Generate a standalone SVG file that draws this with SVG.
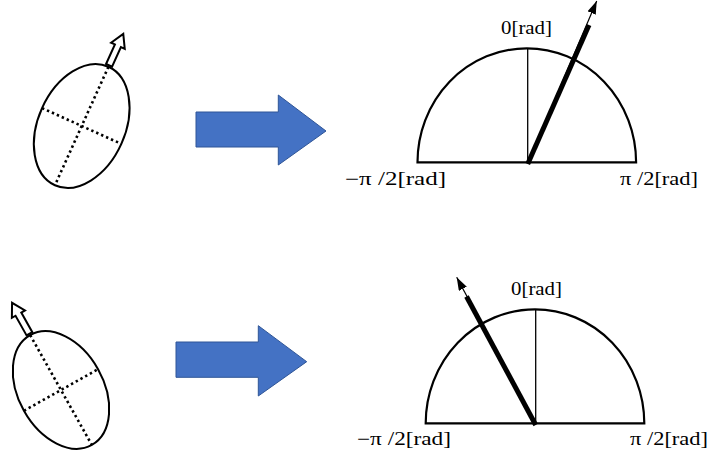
<svg xmlns="http://www.w3.org/2000/svg" width="709" height="459" viewBox="0 0 709 459">
<style>
.ell{fill:none;stroke:#000;stroke-width:2}
.axis{fill:none;stroke:#000;stroke-width:2.6;stroke-dasharray:2.4 3}
.hollow{fill:#fff;stroke:#000;stroke-width:2;stroke-linejoin:miter}
.big{fill:#4472C4;stroke:#2F5597;stroke-width:1}
.semi{fill:none;stroke:#000;stroke-width:2.2}
.vline{stroke:#000;stroke-width:1.3}
.thin{stroke:#000;stroke-width:1.2;marker-end:url(#head)}
.thick{stroke:#000;stroke-width:5}
.lbl{font-family:"Liberation Serif","Times New Roman",serif;font-size:18px;fill:#000}
</style>
<defs>
<marker id="head" markerUnits="userSpaceOnUse" markerWidth="14" markerHeight="10" refX="13" refY="4.5" orient="auto">
<path d="M0,0 L13,4.5 L0,9 Z" fill="#000"/>
</marker>
</defs>
<rect width="709" height="459" fill="#fff"/>

<g id="ellipse-top" transform="translate(81.7,126) rotate(24.3)">
<ellipse class="ell" cx="0" cy="0" rx="43.5" ry="65"/>
<line class="axis" x1="0" y1="-65" x2="0" y2="65"/>
<line class="axis" x1="-43.5" y1="0" x2="43.5" y2="0"/>
<polygon class="hollow" points="-3.3,-66.5 -3.3,-88 -7.5,-88 0,-101 7.5,-88 3.3,-88 3.3,-66.5"/>
</g>

<g id="ellipse-bottom" transform="translate(61,390) rotate(-29.3)">
<ellipse class="ell" cx="0" cy="0" rx="42.5" ry="63"/>
<line class="axis" x1="0" y1="-63" x2="0" y2="63"/>
<line class="axis" x1="-42.5" y1="0" x2="42.5" y2="0"/>
<polygon class="hollow" points="-3.3,-64.5 -3.3,-87 -7.5,-87 0,-100 7.5,-87 3.3,-87 3.3,-64.5"/>
</g>

<g id="arrow-top">
<polygon class="big" points="196,112 278.3,112 278.3,95 326,131 278.3,165 278.3,147 196,147"/>
</g>
<g id="arrow-bottom">
<polygon class="big" points="176,342 258.3,342 258.3,325.7 306.7,361.7 258.3,396 258.3,377.3 176,377.3"/>
</g>

<g id="gauge-top">
<path class="semi" d="M417.5,162.3 A109.3,114 0 0 1 636.1,162.3 Z"/>
<line class="vline" x1="527.7" y1="48.3" x2="527.7" y2="162.3"/>
<text class="lbl" x="501" y="34.3" textLength="51" lengthAdjust="spacingAndGlyphs">0[rad]</text>
<text class="lbl" x="345" y="184.5" textLength="101" lengthAdjust="spacingAndGlyphs">−π /2[rad]</text>
<text class="lbl" x="620" y="184.5" textLength="78" lengthAdjust="spacingAndGlyphs">π /2[rad]</text>
</g>

<g id="gauge-bottom">
<path class="semi" d="M425.7,423.3 A109.3,114 0 0 1 644.3,423.3 Z"/>
<line class="vline" x1="535.7" y1="309.3" x2="535.7" y2="423.3"/>
<text class="lbl" x="511" y="294.5" textLength="51" lengthAdjust="spacingAndGlyphs">0[rad]</text>
<text class="lbl" x="357" y="444.5" textLength="94" lengthAdjust="spacingAndGlyphs">−π /2[rad]</text>
<text class="lbl" x="630" y="444.5" textLength="78" lengthAdjust="spacingAndGlyphs">π /2[rad]</text>
</g>

<g id="connectors">
<line class="thin" x1="527.7" y1="163.5" x2="596.7" y2="1"/>
<line class="thick" x1="527.7" y1="164" x2="589" y2="25"/>
<line class="thin" x1="535.7" y1="424.5" x2="456.7" y2="277.3"/>
<line class="thick" x1="535.7" y1="425" x2="466.5" y2="296.5"/>
</g>
</svg>
